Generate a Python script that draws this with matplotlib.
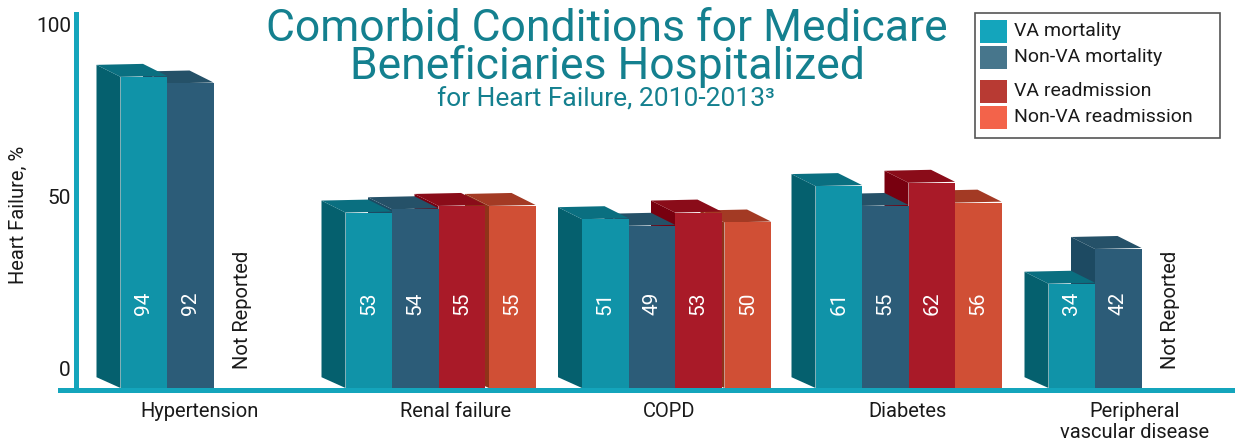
import matplotlib
matplotlib.use('agg')
import matplotlib.pyplot as plt
from matplotlib.patches import Polygon, Rectangle
from matplotlib import font_manager

names = sorted(set(f.name for f in font_manager.fontManager.ttflist))
print(names)

categories = ['Hypertension', 'Renal failure', 'COPD', 'Diabetes', 'Peripheral\nvascular disease']
series = ['VA mortality', 'Non-VA mortality', 'VA readmission', 'Non-VA readmission']

# printed numbers, None = not reported
va_mortality = [94, 53, 51, 61, 34]
nonva_mortality = [92, 54, 49, 55, 42]
va_readmission = [None, 55, 53, 62, None]
nonva_readmission = [None, 55, 50, 56, None]

# drawn height of the VA mortality bar for PVD sits lower than its label
va_mortality_drawn = [94, 53, 51, 61, 31.5]

yticks = [100, 50, 0]

plt.rcParams['font.family'] = ['Liberation Sans Narrow', 'Roboto', 'DejaVu Sans']

W, H = 1235, 448
fig = plt.figure(figsize=(W / 100, H / 100), dpi=100)
fig.patch.set_facecolor('white')

# pixel axes for the furniture
px = fig.add_axes([0, 0, 1, 1])
px.set_xlim(0, W)
px.set_ylim(H, 0)
px.axis('off')

# value axes for the bars, 3.31 px per percent, zero at y=388
SCALE = 3.31
ax = fig.add_axes([0, 0, 1, 1])
ax.set_xlim(0, W)
ax.set_ylim(-(H - 388) / SCALE, 388 / SCALE)
ax.axis('off')
ax.patch.set_alpha(0)

front = ['#1093A8', '#2C5C78', '#A91A28', '#D04F35']
side = ['#05606E', '#1D4A62', '#78000F', '#8F3319']
top = ['#0A6F80', '#255168', '#8A0C19', '#A33A24']

BAR_W = 46.5
DX = 24
DY = 12 / SCALE
group_left = [120.5, 345.5, 582, 815.5, 1048.5]
shift_last = [0, 4, 3, 0, 0]

not_reported_x = [242, None, None, None, 1171]
cat_x = [200, 456, 669, 908, 1135]


def draw_bar(x, h, k, z):
    ax.add_patch(Polygon([(x - DX, h + DY), (x, h), (x, 0), (x - DX, DY * 0.9)],
                         closed=True, fc=side[k], ec='none', zorder=z))
    ax.add_patch(Polygon([(x - DX, h + DY), (x + BAR_W - DX, h + DY + 0.3),
                          (x + BAR_W, h + 0.3), (x, h)],
                         closed=True, fc=top[k], ec='none', zorder=z))


for g, cat in enumerate(categories):
    values = [va_mortality_drawn[g], nonva_mortality[g], va_readmission[g], nonva_readmission[g]]
    labels = [va_mortality[g], nonva_mortality[g], va_readmission[g], nonva_readmission[g]]
    xs = [group_left[g] + i * BAR_W for i in range(4)]
    xs[3] += shift_last[g]
    # back faces go right to left so the left bars overlap
    for k in range(3, -1, -1):
        if values[k] is not None:
            draw_bar(xs[k], values[k], k, 2 + (3 - k))
    for k in range(4):
        if values[k] is None:
            continue
        ax.bar(xs[k], values[k], width=BAR_W, align='edge', color=front[k], zorder=10)
        ax.text(xs[k] + BAR_W / 2, 25.5, str(labels[k]), rotation=90, ha='center', va='center',
                color='white', fontsize=15, zorder=11)
    if not_reported_x[g] is not None:
        px.text(not_reported_x[g], 310, 'Not Reported', rotation=90, ha='center', va='center',
                fontsize=14.5, color='#1a1a1a')
    px.text(cat_x[g], 402, cat, ha='center', va='top', fontsize=14.5, color='#1a1a1a', linespacing=1.15)

# axis lines
px.add_patch(Rectangle((74, 12), 5, 380, fc='#14A5BC', ec='none'))
px.add_patch(Rectangle((58, 388), W - 58, 5.5, fc='#14A5BC', ec='none'))

for t, y in zip(yticks, [26, 199, 371]):
    px.text(71, y, str(t), ha='right', va='center', fontsize=15, color='#1a1a1a')
px.text(18, 215, 'Heart Failure, %', rotation=90, ha='center', va='center', fontsize=14.5, color='#1a1a1a')

# title
px.text(607, 29, 'Comorbid Conditions for Medicare', ha='center', va='center', fontsize=32, color='#14808F')
px.text(607, 67, 'Beneficiaries Hospitalized', ha='center', va='center', fontsize=32, color='#14808F')
px.text(606, 100, 'for Heart Failure, 2010-2013\u00b3', ha='center', va='center', fontsize=19, color='#14808F')

# legend
px.add_patch(Rectangle((974.5, 13), 245, 125, fc='white', ec='#555555', lw=1.2))
legend_colors = ['#14A5BC', '#47768C', '#B83A33', '#F3634A']
legend_y = [20, 46, 80, 106]
for name, c, y in zip(series, legend_colors, legend_y):
    px.add_patch(Rectangle((980, y), 27, 23, fc=c, ec='none'))
    px.text(1014, y + 11.5, name, ha='left', va='center', fontsize=14, color='#1a1a1a')

fig.savefig('out.png', dpi=100)
